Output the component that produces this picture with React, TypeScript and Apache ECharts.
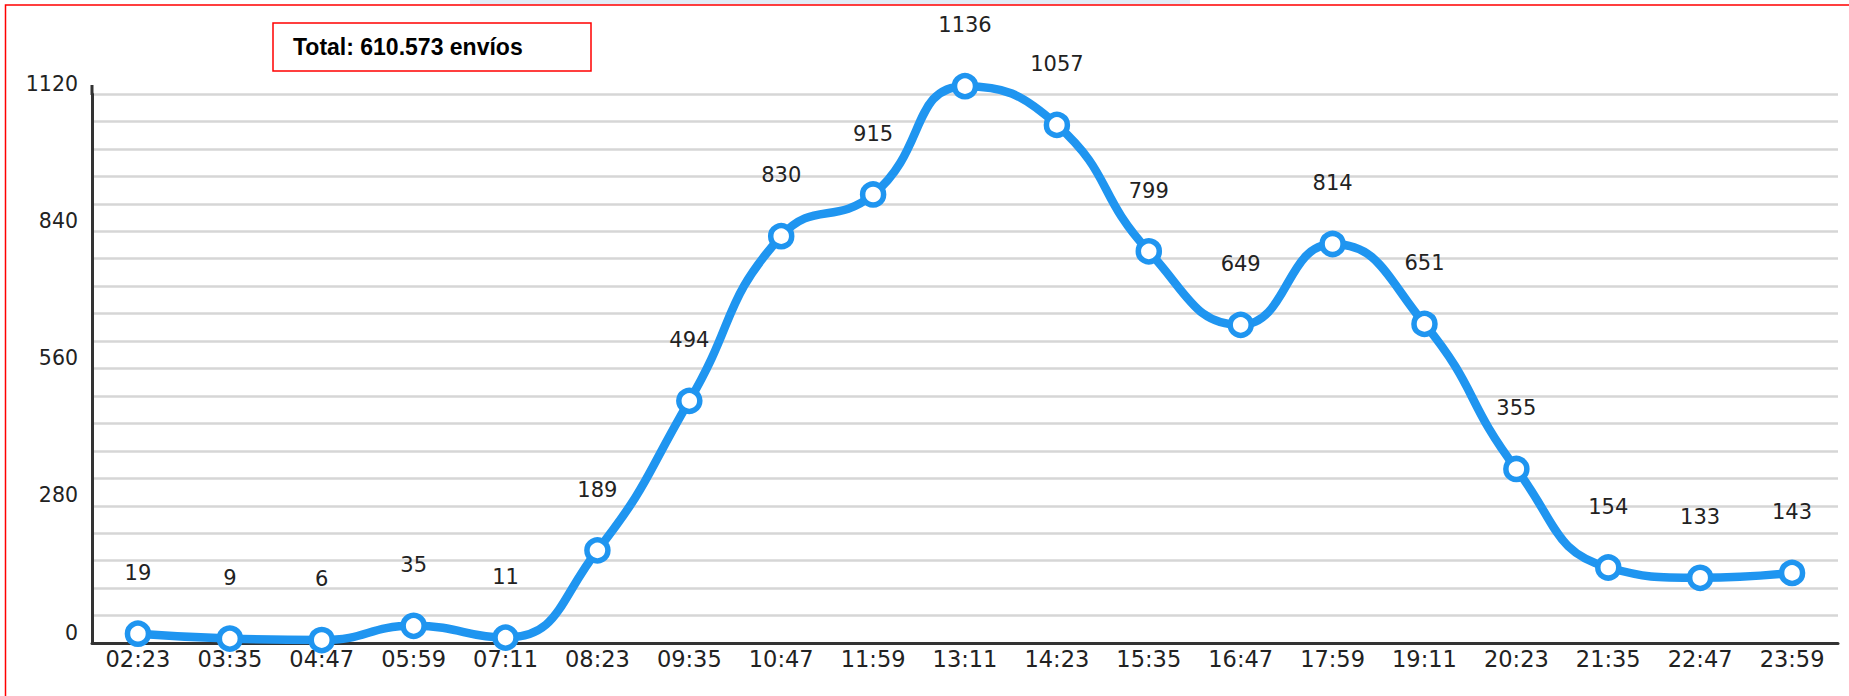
import React, { useEffect, useRef } from "react";
import * as echarts from "echarts";

const categories = [
  "02:23", "03:35", "04:47", "05:59", "07:11", "08:23", "09:35", "10:47", "11:59", "13:11",
  "14:23", "15:35", "16:47", "17:59", "19:11", "20:23", "21:35", "22:47", "23:59",
];
const envios = [19, 9, 6, 35, 11, 189, 494, 830, 915, 1136, 1057, 799, 649, 814, 651, 355, 154, 133, 143];
const yTicks = [0, 280, 560, 840, 1120];
const totalText = "Total: 610.573 envíos";

const FONT = "'DejaVu Sans', Verdana, sans-serif";
const BLUE = "#1f95f0";

export default function App() {
  const ref = useRef<HTMLDivElement>(null);
  useEffect(() => {
    if (!ref.current) return;
    const chart = echarts.init(ref.current, undefined, { renderer: "svg" });
    chart.setOption({
      animation: false,
      backgroundColor: "#ffffff",
      grid: { left: 92, right: 11, top: 94, bottom: 53, containLabel: false },
      xAxis: {
        type: "category",
        data: categories,
        boundaryGap: true,
        axisLine: { show: true, lineStyle: { color: "#333", width: 3 } },
        axisTick: { show: false },
        axisLabel: { fontFamily: FONT, fontSize: 22.5, color: "#222", margin: 4 },
        splitLine: { show: false },
      },
      yAxis: {
        type: "value",
        min: yTicks[0],
        max: yTicks[yTicks.length - 1],
        interval: yTicks[1] - yTicks[0],
        axisLine: { show: true, lineStyle: { color: "#333", width: 3 } },
        axisTick: { show: false },
        axisLabel: {
          fontFamily: FONT,
          fontSize: 20.5,
          color: "#222",
          margin: 14,
          verticalAlign: "bottom",
          formatter: (v: number) => String(v),
        },
        splitLine: { show: true, lineStyle: { color: "#d6d6d6", width: 2.5 } },
        minorTick: { show: false, splitNumber: 5 },
        minorSplitLine: { show: true, lineStyle: { color: "#d6d6d6", width: 2.5 } },
      },
      series: [
        {
          type: "line",
          data: envios,
          smooth: 0.5,
          clip: false,
          symbol: "circle",
          symbolSize: 21,
          lineStyle: { color: BLUE, width: 8.5 },
          itemStyle: { color: "#ffffff", borderColor: BLUE, borderWidth: 5.5 },
          label: {
            show: true,
            position: "top",
            distance: 37,
            fontFamily: FONT,
            fontSize: 21,
            color: "#222",
          },
          z: 3,
        },
      ],
      graphic: [
        {
          type: "rect",
          shape: { x: 470, y: 0, width: 720, height: 4.5 },
          style: { fill: "#e2ecf6" },
          silent: true,
        },
        {
          type: "rect",
          shape: { x: 5.5, y: 5, width: 2000, height: 1000 },
          style: { fill: "none", stroke: "#ff0000", lineWidth: 1.5 },
          silent: true,
        },
        {
          type: "line",
          shape: { x1: 92, y1: 85, x2: 92, y2: 95 },
          style: { stroke: "#333", lineWidth: 3 },
          silent: true,
        },
        {
          type: "rect",
          shape: { x: 273, y: 23, width: 318, height: 48 },
          style: { fill: "#ffffff", stroke: "#ff0000", lineWidth: 1.5 },
          silent: true,
        },
        {
          type: "text",
          x: 293,
          y: 47,
          style: {
            text: totalText,
            fontFamily: "'Liberation Sans', Arial, sans-serif",
            fontWeight: "bold",
            fontSize: 23,
            fill: "#000",
            verticalAlign: "middle",
            align: "left",
          },
        },
      ],
    });
    return () => chart.dispose();
  }, []);
  return (
    <div
      ref={ref}
      style={{ position: "fixed", left: 0, top: 0, width: 1849, height: 696, background: "#fff" }}
    />
  );
}
